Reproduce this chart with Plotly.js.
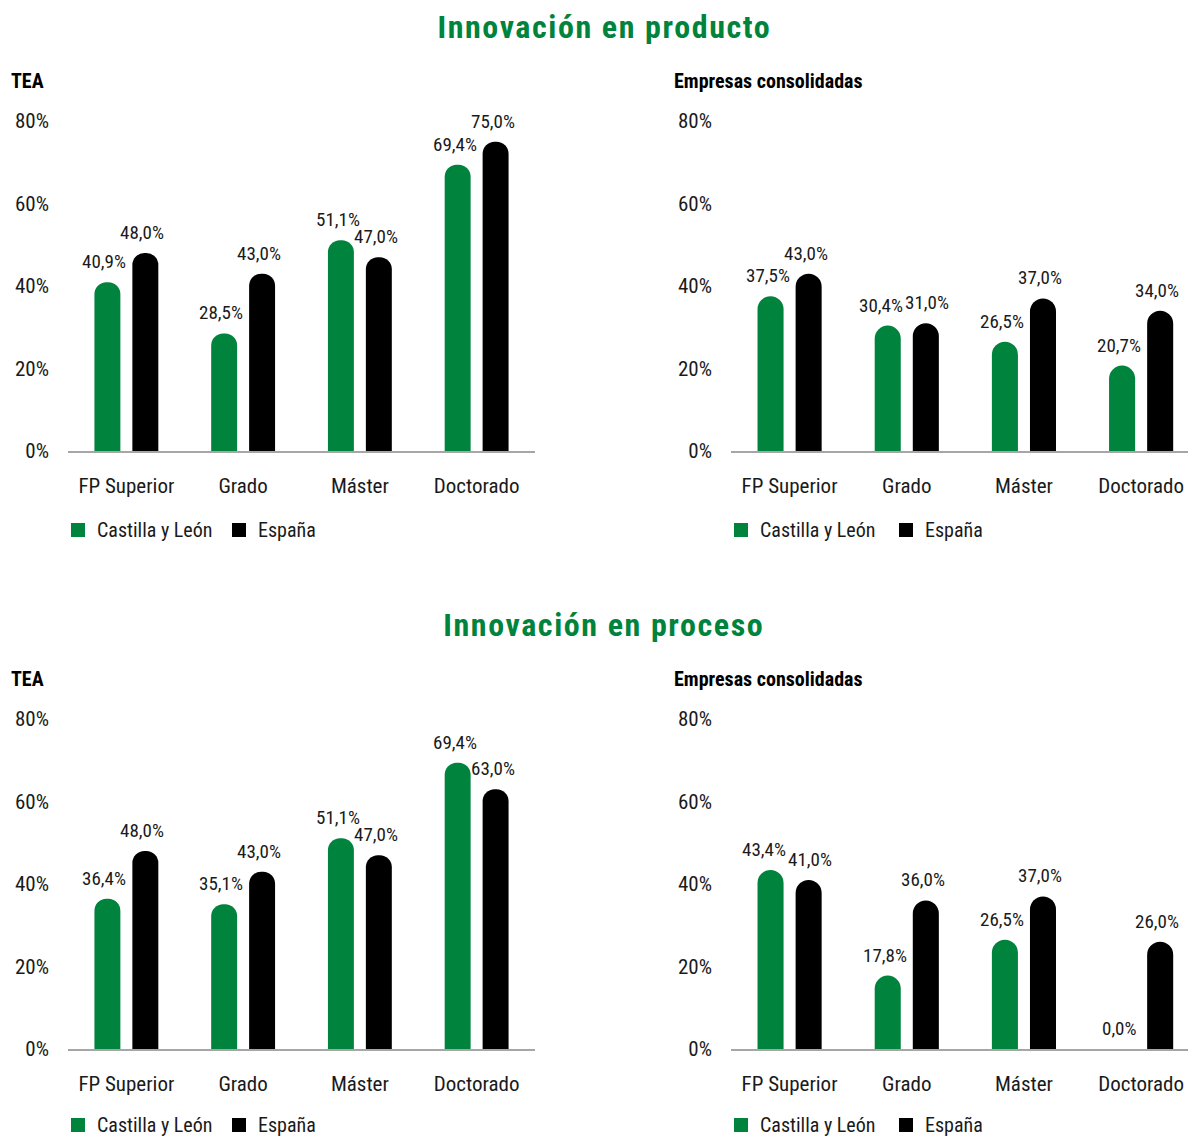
<!DOCTYPE html>
<html>
<head>
<meta charset="utf-8">
<script src="https://cdn.plot.ly/plotly-3.0.1.min.js"></script>
<style>
  html, body { margin: 0; padding: 0; background: #fff; }
  #chart { width: 1188px; height: 1137px; }
  .annotation-text.big-title { letter-spacing: 1.6px; }
</style>
</head>
<body>
<div id="chart"></div>
<script>
// ---------- DATA ----------
const categories = ['FP Superior', 'Grado', 'Máster', 'Doctorado'];
const seriesNames = ['Castilla y León', 'España'];

const productoTeaCyL = [40.9, 28.5, 51.1, 69.4];
const productoTeaEsp = [48.0, 43.0, 47.0, 75.0];
const productoConsCyL = [37.5, 30.4, 26.5, 20.7];
const productoConsEsp = [43.0, 31.0, 37.0, 34.0];

const procesoTeaCyL = [36.4, 35.1, 51.1, 69.4];
const procesoTeaEsp = [48.0, 43.0, 47.0, 63.0];
const procesoConsCyL = [43.4, 17.8, 26.5, 0.0];
const procesoConsEsp = [41.0, 36.0, 37.0, 26.0];

const titles = ['Innovación en producto', 'Innovación en proceso'];
const subtitles = ['TEA', 'Empresas consolidadas'];
const yTicks = [0, 20, 40, 60, 80];
const yTickLabels = ['0%', '20%', '40%', '60%', '80%'];

// ---------- STYLE ----------
const FONT = '"Liberation Sans Narrow", "Arial Narrow", "Roboto Condensed", "DejaVu Sans Condensed", sans-serif';
const GREEN = '#00843D';
const BLACK = '#000000';
const TXT = '#1a1a1a';
const W = 1188, H = 1137;
const SERIES_COLORS = [GREEN, BLACK];

const panels = [
  { cyl: productoTeaCyL,  esp: productoTeaEsp,  xa: 'x',  ya: 'y'  },
  { cyl: productoConsCyL, esp: productoConsEsp, xa: 'x2', ya: 'y2' },
  { cyl: procesoTeaCyL,   esp: procesoTeaEsp,   xa: 'x3', ya: 'y3' },
  { cyl: procesoConsCyL,  esp: procesoConsEsp,  xa: 'x4', ya: 'y4' }
];

const fmt = v => v.toFixed(1).replace('.', ',') + '%';

const traces = [];
const annotations = [];
const shapes = [];
panels.forEach(p => {
  [[p.cyl, GREEN, seriesNames[0], 0], [p.esp, BLACK, seriesNames[1], 1]].forEach(([vals, col, name, s]) => {
    traces.push({
      type: 'bar', x: categories, y: vals, name: name,
      xaxis: p.xa, yaxis: p.ya, showlegend: false,
      marker: { color: col, cornerradius: '50%', line: { width: 0 } },
      hoverinfo: 'skip'
    });
    vals.forEach((v, i) => {
      // labels at similar heights are pushed apart so they do not collide
      const close = Math.abs(p.cyl[i] - p.esp[i]) < 3;
      const dx = s === 0 ? (close ? -26 : -22) : (close ? 20 : 16);
      annotations.push({
        xref: p.xa, yref: p.ya, x: categories[i], y: v,
        text: fmt(v), showarrow: false, xanchor: 'center', yanchor: 'bottom',
        xshift: dx, yshift: 7,
        font: { family: FONT, size: 19, color: TXT }
      });
    });
  });
});

// titles and subtitles
const titleY = [1 - 27 / H, 1 - 625 / H];
const subY = [1 - 81 / H, 1 - 679 / H];
titles.forEach((t, k) => {
  annotations.push({
    xref: 'paper', yref: 'paper', x: 604 / W, y: titleY[k],
    text: '<b>' + t + '</b>', showarrow: false, xanchor: 'center', yanchor: 'middle',
    font: { family: FONT, size: 32, color: GREEN }
  });
  subtitles.forEach((s, j) => {
    annotations.push({
      xref: 'paper', yref: 'paper', x: (j === 0 ? 10 : 673) / W, y: subY[k],
      text: '<b>' + s + '</b>', showarrow: false, xanchor: 'left', yanchor: 'middle',
      xshift: -1,
      font: { family: FONT, size: 20, color: BLACK }
    });
  });
});

// legends (drawn per panel: square + label)
const legendRows = [530, 1125];
const legendCols = [[71, 232], [734, 899]];
legendRows.forEach(ry => {
  legendCols.forEach(cols => {
    cols.forEach((cx, s) => {
      shapes.push({
        type: 'rect', xref: 'paper', yref: 'paper',
        x0: cx / W, x1: (cx + 14) / W, y0: 1 - (ry + 7) / H, y1: 1 - (ry - 7) / H,
        fillcolor: SERIES_COLORS[s], line: { width: 0 }
      });
      annotations.push({
        xref: 'paper', yref: 'paper', x: (cx + 26) / W, y: 1 - ry / H,
        text: seriesNames[s], showarrow: false, xanchor: 'left', yanchor: 'middle',
        xshift: -1, borderpad: 0,
        font: { family: FONT, size: 20, color: TXT }
      });
    });
  });
});

function xAxis(domain, range) {
  return {
    domain: domain, range: range, type: 'category',
    showline: true, linecolor: '#A6A6A6', linewidth: 2,
    showgrid: false, zeroline: false, ticks: '',
    ticklabelstandoff: 15,
    tickfont: { family: FONT, size: 21, color: TXT },
    fixedrange: true
  };
}
function yAxis(domain) {
  return {
    domain: domain, range: [0, 80], tickmode: 'array', tickvals: yTicks, ticktext: yTickLabels,
    showline: false, showgrid: false, zeroline: false, ticks: '',
    ticklabelstandoff: 18,
    tickfont: { family: FONT, size: 21, color: TXT },
    fixedrange: true
  };
}

const leftX = [68 / W, 535 / W];
const rightX = [731 / W, 1];
const topY = [(H - 451) / H, (H - 121) / H];
const botY = [(H - 1049) / H, (H - 719) / H];

const layout = {
  width: W, height: H,
  margin: { l: 0, r: 0, t: 0, b: 0, autoexpand: false },
  paper_bgcolor: '#ffffff', plot_bgcolor: '#ffffff',
  barmode: 'group', bargap: 0.35, bargroupgap: 0.316,
  showlegend: false,
  xaxis: Object.assign(xAxis(leftX, [-0.5, 3.5]), { anchor: 'y' }),
  yaxis: Object.assign(yAxis(topY), { anchor: 'x' }),
  xaxis2: Object.assign(xAxis(rightX, [-0.5, 3.4]), { anchor: 'y2' }),
  yaxis2: Object.assign(yAxis(topY), { anchor: 'x2' }),
  xaxis3: Object.assign(xAxis(leftX, [-0.5, 3.5]), { anchor: 'y3' }),
  yaxis3: Object.assign(yAxis(botY), { anchor: 'x3' }),
  xaxis4: Object.assign(xAxis(rightX, [-0.5, 3.4]), { anchor: 'y4' }),
  yaxis4: Object.assign(yAxis(botY), { anchor: 'x4' }),
  annotations: annotations,
  shapes: shapes
};

Plotly.newPlot('chart', traces, layout, { displayModeBar: false, staticPlot: true }).then(() => {
  document.querySelectorAll('.annotation-text').forEach(el => {
    if (el.textContent === titles[0] || el.textContent === titles[1]) el.classList.add('big-title');
  });
});
</script>
</body>
</html>
